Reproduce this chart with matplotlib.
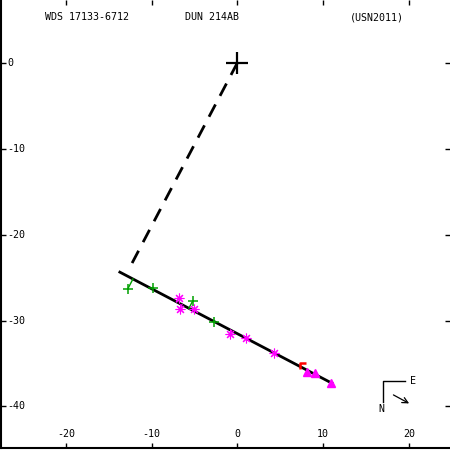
import numpy as np
import matplotlib
matplotlib.use('Agg')
import matplotlib.pyplot as plt
from matplotlib.path import Path

plt.rcParams['font.family'] = ['DejaVu Sans Mono']
plt.rcParams['axes.unicode_minus'] = False

# data (arcsec)
fit_x = [-13.72, 11.04]
fit_y = [-24.37, -37.30]
peri_x = [0.0, -12.6]
peri_y = [0.0, -23.9]

green_x = [-12.79, -9.88, -5.23, -2.78]
green_y = [-26.31, -26.16, -27.74, -30.12]

star_x = [-6.86, -6.74, -5.11, -0.90, 0.94, 4.31]
star_y = [-27.40, -28.67, -28.67, -31.58, -32.05, -33.79]

red_x = [7.66]
red_y = [-35.27]

tri_x = [8.16, 9.06, 10.92]
tri_y = [-35.97, -36.12, -37.28]

xticks = [-20, -10, 0, 10, 20]
yticks = [0, -10, -20, -30, -40]
titles = ['WDS 17133-6712', 'DUN 214AB', '(USN2011)']


def oc_lines(ax, xs, ys, color):
    # short residual lines from each point to the fitted line
    p0 = np.array([fit_x[0], fit_y[0]])
    d = np.array([fit_x[1] - fit_x[0], fit_y[1] - fit_y[0]])
    for x, y in zip(xs, ys):
        t = np.dot(np.array([x, y]) - p0, d) / np.dot(d, d)
        q = p0 + t * d
        ax.plot([x, q[0]], [y, q[1]], color=color, lw=1)


fig = plt.figure(figsize=(4.5, 4.5), dpi=100)
ax = fig.add_axes([0.002, 0.005, 0.998, 0.995])
ax.set_xlim(-27.6, 24.8)
ax.set_ylim(-44.8, 7.29)

ax.plot(peri_x, peri_y, color='black', lw=2, dashes=(5, 3.5))
ax.plot(fit_x, fit_y, color='black', lw=2.0)

oc_lines(ax, green_x, green_y, '#00a000')
oc_lines(ax, star_x, star_y, '#ff00ff')
oc_lines(ax, tri_x, tri_y, '#ff00ff')

gamma = Path([(-1, -1), (-1, 1), (1, 1)], [Path.MOVETO, Path.LINETO, Path.LINETO])
ax.plot(red_x, red_y, ls='none', marker=gamma, ms=5, mew=1.8, color='red', mfc='none')
ax.plot(green_x, green_y, ls='none', marker='+', ms=7.5, mew=1.1, color='#00a000')
ax.plot(star_x, star_y, ls='none', marker=(8, 2, 0), ms=7, mew=0.8, color='#ff00ff')
ax.plot(tri_x, tri_y, ls='none', marker='^', ms=5.5, color='#ff00ff')
ax.plot([0], [0], ls='none', marker='+', ms=16, mew=1.6, color='black')

# axes frame and ticks
ax.spines['top'].set_visible(False)
ax.spines['right'].set_visible(False)
ax.spines['left'].set_linewidth(1.5)
ax.spines['bottom'].set_linewidth(1.5)
ax.set_xticks(xticks)
ax.set_yticks(yticks)
ax.tick_params(direction='in', length=3.5, width=1, top=True, right=True,
               labelbottom=False, labelleft=False)

for v in xticks:
    ax.text(v, 0.030, str(v), transform=ax.get_xaxis_transform(),
            ha='center', va='center', fontsize=7.2)
for v in yticks:
    ax.text(0.015, v, str(v), transform=ax.get_yaxis_transform(),
            ha='left', va='center', fontsize=7.2)

# header
for t, xp in zip(titles, [0.192, 0.471, 0.838]):
    ax.text(xp, 0.962, t, transform=ax.transAxes, ha='center', va='center', fontsize=7.2)

# compass
ax.plot([0.851, 0.851, 0.900], [0.103, 0.150, 0.150], color='black', lw=1,
        transform=ax.transAxes)
ax.text(0.917, 0.150, 'E', transform=ax.transAxes, ha='center', va='center', fontsize=7.2)
ax.text(0.847, 0.086, 'N', transform=ax.transAxes, ha='center', va='center', fontsize=7.2)
ax.annotate('', xy=(0.909, 0.099), xytext=(0.874, 0.118), xycoords='axes fraction',
            arrowprops=dict(arrowstyle='->', lw=0.9, color='black', shrinkA=0, shrinkB=0))

fig.savefig('out.png', dpi=100)
